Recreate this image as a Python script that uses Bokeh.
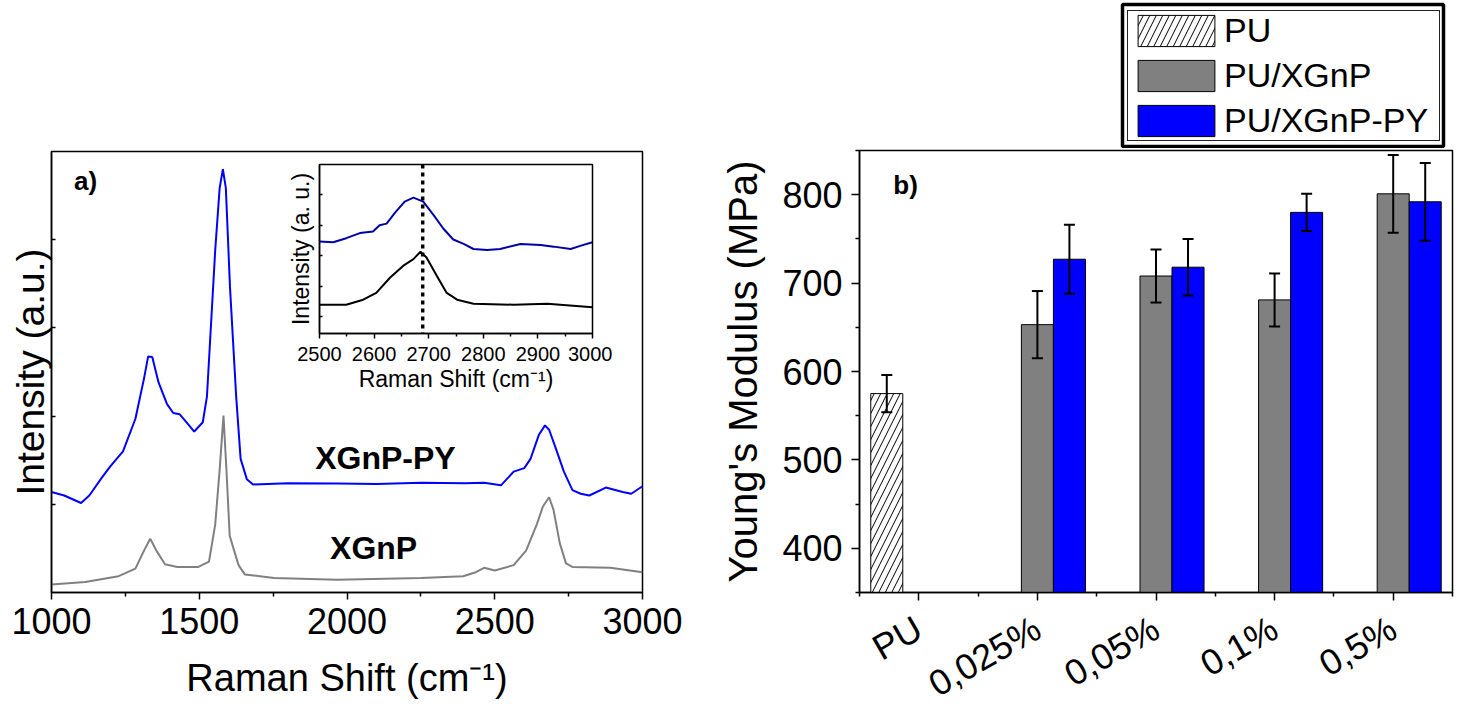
import math
from bokeh.plotting import figure
from bokeh.layouts import row, column
from bokeh.models import (ColumnDataSource, FixedTicker, Legend, LegendItem,
                          Whisker, TeeHead, Label, Span, BoxAnnotation)
from bokeh.transform import dodge
from bokeh.embed import file_html
from bokeh.resources import INLINE

FONT = "Liberation Sans"

# ---------------- Panel a) Raman spectra (arbitrary units) ----------------
py_shift = [1000, 1043, 1100, 1128, 1171, 1199, 1242, 1284, 1313, 1327, 1341,
            1362, 1391, 1412, 1434, 1462, 1483, 1512, 1526, 1540, 1554, 1569,
            1580, 1590, 1604, 1625, 1640, 1661, 1682, 1800, 1967, 2100, 2251,
            2400, 2464, 2521, 2564, 2600, 2621, 2649, 2670, 2684, 2706, 2734,
            2763, 2791, 2820, 2876, 2933, 2962, 3000]
py_int = [22.8, 22.0, 20.3, 22.0, 26.1, 28.6, 32.0, 39.4, 48.5, 53.5, 53.4,
          47.7, 42.7, 40.7, 40.4, 38.2, 36.5, 38.6, 44.4, 61.0, 77.6, 91.7,
          96.0, 91.7, 69.3, 44.4, 30.3, 25.7, 24.5, 24.8, 24.7, 24.6, 24.9,
          24.8, 24.9, 24.3, 27.4, 28.2, 30.3, 35.7, 37.9, 36.9, 32.8, 27.4,
          23.2, 22.4, 22.0, 23.8, 22.8, 22.4, 24.1]

xgnp_shift = [1000, 1114, 1227, 1284, 1313, 1334, 1355, 1384, 1426, 1497, 1533,
              1554, 1569, 1582, 1592, 1603, 1618, 1633, 1654, 1753, 1967, 2251,
              2393, 2436, 2464, 2500, 2564, 2606, 2642, 2663, 2684, 2699, 2720,
              2741, 2763, 2891, 3000]
xgnp_int = [1.8, 2.4, 3.7, 5.4, 9.5, 12.2, 9.5, 6.4, 5.8, 5.8, 7.0,
            15.4, 27.8, 40.1, 27.8, 12.9, 9.5, 6.2, 4.1, 3.3, 2.9, 3.3,
            3.7, 4.6, 5.6, 5.0, 6.2, 9.5, 15.4, 19.5, 21.6, 18.7, 11.2,
            6.6, 5.8, 5.6, 4.6]

# inset: 2D band
inset_py_shift = [2500, 2525, 2549, 2574, 2598, 2610, 2623, 2638, 2656, 2672,
                  2690, 2709, 2727, 2745, 2764, 2782, 2807, 2831, 2868, 2905,
                  2929, 2960, 2979, 3000]
inset_py_int = [54.4, 54.0, 56.4, 59.4, 60.4, 64.0, 65.0, 71.4, 78.0, 80.4,
                78.0, 70.0, 62.0, 55.6, 53.0, 50.0, 49.4, 50.0, 53.0, 52.4,
                51.4, 50.0, 52.0, 54.0]
inset_xgnp_shift = [2500, 2549, 2580, 2604, 2629, 2653, 2672, 2685, 2696, 2715,
                    2733, 2752, 2782, 2856, 2917, 3000]
inset_xgnp_int = [17.0, 17.0, 20.0, 24.0, 33.0, 40.0, 44.0, 48.4, 45.0, 34.0,
                  24.0, 20.0, 17.6, 17.0, 17.6, 15.6]
peak_2d_position = 2689

# ---------------- Panel b) Young's modulus ----------------
categories = ["PU", "0,025%", "0,05%", "0,1%", "0,5%"]
series_names = ["PU", "PU/XGnP", "PU/XGnP-PY"]
pu_modulus = [575]
pu_error = [21]
xgnp_modulus = [653, 708, 681, 801]
xgnp_error = [38, 30, 30, 44]
xgnp_py_modulus = [727, 718, 780, 792]
xgnp_py_error = [39, 32, 21, 44]


def style_axis(ax, tick_size, label_size):
    ax.axis_line_color = "black"
    ax.axis_line_width = 1.5
    ax.major_tick_line_color = "black"
    ax.major_tick_line_width = 1.5
    ax.minor_tick_line_color = "black"
    ax.minor_tick_line_width = 1.5
    ax.major_label_text_font = FONT
    ax.major_label_text_font_size = tick_size
    ax.major_label_text_color = "black"
    ax.axis_label_text_font = FONT
    ax.axis_label_text_font_size = label_size
    ax.axis_label_text_font_style = "normal"
    ax.axis_label_text_color = "black"


def bold_label(x, y, text, size):
    return Label(x=x, y=y, text=text, text_font=FONT, text_font_size=size,
                 text_font_style="bold", text_color="black",
                 text_align="center", text_baseline="middle")


# ======================= figure a =======================
p1 = figure(frame_width=591, frame_height=441, x_range=(1000, 3000), y_range=(0, 100),
            output_backend="svg", toolbar_location=None,
            min_border_left=51, min_border_right=58,
            min_border_top=151, min_border_bottom=117)
p1.line(py_shift, py_int, line_color="#0000ff", line_width=2)
p1.line(xgnp_shift, xgnp_int, line_color="#808080", line_width=2)

p1.grid.visible = False
p1.outline_line_color = "black"
p1.outline_line_width = 1.5
p1.background_fill_color = "white"
p1.border_fill_color = "white"

xa = p1.xaxis[0]
style_axis(xa, "36px", "38px")
xa.ticker = FixedTicker(ticks=[1000, 1500, 2000, 2500, 3000],
                        minor_ticks=[1250, 1750, 2250, 2750])
xa.axis_label = "Raman Shift (cm\u207b\u00b9)"
xa.axis_label_standoff = 20
xa.major_label_standoff = 8
xa.major_tick_out = 7
xa.major_tick_in = 0
xa.minor_tick_out = 4
xa.minor_tick_in = 0

ya = p1.yaxis[0]
style_axis(ya, "36px", "39px")
ya.ticker = FixedTicker(ticks=[20, 40, 60, 80], minor_ticks=[])
ya.major_label_overrides = {20: "", 40: "", 60: "", 80: ""}
ya.major_label_standoff = 0
ya.major_tick_out = 0
ya.major_tick_in = 4
ya.axis_label = "Intensity (a.u.)"
ya.axis_label_standoff = 0

p1.add_layout(bold_label(1115, 93.4, "a)", "26px"))
p1.add_layout(bold_label(2130, 30.6, "XGnP-PY", "32px"))
p1.add_layout(bold_label(2090, 10.2, "XGnP", "32px"))

# ======================= inset =======================
ins = figure(frame_width=273, frame_height=169, x_range=(2500, 3000), y_range=(0, 100),
             output_backend="svg", toolbar_location=None,
             min_border_left=40, min_border_right=20,
             min_border_top=10, min_border_bottom=66,
             styles={"position": "absolute", "left": "279px", "top": "154px"})
ins.line(inset_py_shift, inset_py_int, line_color="#0000a8", line_width=2)
ins.line(inset_xgnp_shift, inset_xgnp_int, line_color="black", line_width=2)
ins.add_layout(Span(location=peak_2d_position, dimension="height", line_color="black",
                    line_width=3.5, line_dash="4 4"))
ins.grid.visible = False
ins.outline_line_color = "black"
ins.outline_line_width = 1.5
ins.background_fill_color = "white"
ins.border_fill_alpha = 0

ixa = ins.xaxis[0]
style_axis(ixa, "20px", "23px")
ixa.ticker = FixedTicker(ticks=[2500, 2600, 2700, 2800, 2900, 3000],
                         minor_ticks=[2550, 2650, 2750, 2850, 2950])
ixa.axis_label = "Raman Shift (cm\u207b\u00b9)"
ixa.axis_label_standoff = 2
ixa.major_label_standoff = 8
ixa.major_tick_out = 5
ixa.major_tick_in = 0
ixa.minor_tick_out = 3
ixa.minor_tick_in = 0

iya = ins.yaxis[0]
style_axis(iya, "20px", "23px")
iya.ticker = FixedTicker(ticks=[10, 28, 46, 64, 82], minor_ticks=[])
iya.major_label_overrides = {10: "", 28: "", 46: "", 64: "", 82: ""}
iya.major_label_standoff = 0
iya.major_tick_out = 0
iya.major_tick_in = 3
iya.axis_label = "Intensity (a. u.)"
iya.axis_label_standoff = 6

# ======================= figure b =======================
BW = 0.27
src_pu = ColumnDataSource(dict(idx=[0], val=pu_modulus,
                               up=[v + e for v, e in zip(pu_modulus, pu_error)],
                               lo=[v - e for v, e in zip(pu_modulus, pu_error)]))
src_x = ColumnDataSource(dict(idx=[1, 2, 3, 4], val=xgnp_modulus,
                              up=[v + e for v, e in zip(xgnp_modulus, xgnp_error)],
                              lo=[v - e for v, e in zip(xgnp_modulus, xgnp_error)]))
src_py = ColumnDataSource(dict(idx=[1, 2, 3, 4], val=xgnp_py_modulus,
                               up=[v + e for v, e in zip(xgnp_py_modulus, xgnp_py_error)],
                               lo=[v - e for v, e in zip(xgnp_py_modulus, xgnp_py_error)]))

styles = [dict(fill_color="white", line_color="black", line_width=1,
               hatch_pattern="/", hatch_color="black", hatch_weight=1, hatch_scale=13),
          dict(fill_color="#808080", line_color="black", line_width=1),
          dict(fill_color="#0000ff", line_color="black", line_width=1)]
sources = [src_pu, src_x, src_py]
offsets = [-BW, 0, BW]

p2 = figure(frame_width=593, frame_height=442, x_range=(-0.5, 4.5), y_range=(350, 850),
            output_backend="svg", toolbar_location=None,
            min_border_left=159, min_border_right=4,
            min_border_top=2, min_border_bottom=115)

for src, off, st in zip(sources, offsets, styles):
    p2.vbar(x=dodge("idx", off), top="val", bottom=0, width=BW, source=src, **st)
    w = Whisker(source=src, base=dodge("idx", off), upper="up", lower="lo",
                line_color="black", line_width=2,
                upper_head=TeeHead(size=11, line_width=2, line_color="black"),
                lower_head=TeeHead(size=11, line_width=2, line_color="black"))
    w.level = "overlay"
    p2.add_layout(w)

p2.grid.visible = False
p2.outline_line_color = "black"
p2.outline_line_width = 1.5
p2.background_fill_color = "white"
p2.border_fill_color = "white"

bxa = p2.xaxis[0]
style_axis(bxa, "36px", "38px")
bxa.ticker = FixedTicker(ticks=[0, 1, 2, 3, 4], minor_ticks=[-0.5, 0.5, 1.5, 2.5, 3.5, 4.5])
bxa.major_label_overrides = {i: c for i, c in enumerate(categories)}
bxa.major_label_orientation = math.pi / 6
bxa.major_label_standoff = 25
bxa.major_tick_out = 8
bxa.major_tick_in = 0
bxa.minor_tick_out = 4
bxa.minor_tick_in = 0

bya = p2.yaxis[0]
style_axis(bya, "36px", "40px")
bya.ticker = FixedTicker(ticks=[400, 500, 600, 700, 800],
                         minor_ticks=[350, 450, 550, 650, 750, 850])
bya.major_label_standoff = 9
bya.major_tick_out = 8
bya.major_tick_in = 0
bya.minor_tick_out = 4
bya.minor_tick_in = 0
bya.axis_label = "Young's Modulus (MPa)"
bya.axis_label_standoff = 14

p2.add_layout(bold_label(-0.112, 811, "b)", "26px"))

# ----- legend strip above panel b (its frame is aligned with panel b's frame) -----
leg_fig = figure(width=756, height=148, x_range=(-0.5, 4.5), y_range=(5000, 5001),
                 output_backend="svg", toolbar_location=None, title=None,
                 x_axis_location=None, y_axis_location=None,
                 min_border_left=0, min_border_right=0, min_border_top=0, min_border_bottom=0)
leg_fig.grid.visible = False
leg_fig.outline_line_color = None
leg_fig.background_fill_color = "white"
leg_fig.border_fill_color = "white"
leg_renderers = [leg_fig.vbar(x=dodge("idx", off), top="val", bottom=0, width=BW,
                              source=src, **st)
                 for src, off, st in zip(sources, offsets, styles)]

legend = Legend(items=[LegendItem(label=n, renderers=[r])
                       for n, r in zip(series_names, leg_renderers)],
                location=(268, 7))
legend.label_text_font = FONT
legend.label_text_font_size = "34px"
legend.label_text_color = "black"
legend.glyph_width = 96
legend.glyph_height = 39
legend.label_height = 39
legend.label_width = 215
legend.spacing = 6
legend.padding = 0
legend.label_standoff = 0
legend.margin = 0
legend.border_line_color = "#222222"
legend.border_line_alpha = 1
legend.border_line_width = 1
legend.background_fill_color = "white"
legend.background_fill_alpha = 1
leg_fig.add_layout(legend, "center")
leg_fig.add_layout(BoxAnnotation(left=263, right=584, bottom=2, top=144,
                                 left_units="screen", right_units="screen",
                                 bottom_units="screen", top_units="screen",
                                 fill_alpha=0, line_color="black", line_alpha=1,
                                 line_width=3.5))

layout = row(p1, column(leg_fig, p2))
open("out.html", "w").write(file_html([layout, ins], INLINE))
